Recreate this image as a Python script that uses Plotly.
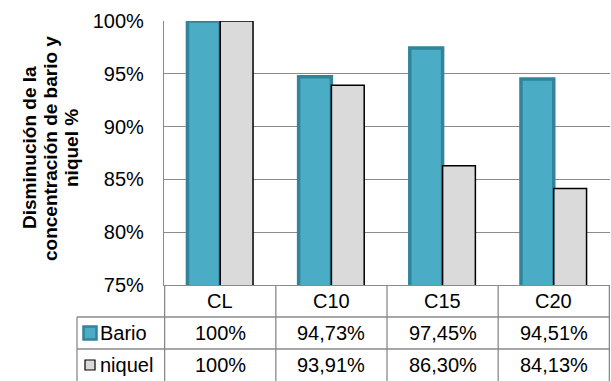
import plotly.graph_objects as go

# Reduction of barium and nickel concentration (%) per sample
categories = ["CL", "C10", "C15", "C20"]
bario = [100, 94.73, 97.45, 94.51]
niquel = [100, 93.91, 86.30, 84.13]
series_names = ["Bario", "niquel"]
tick_vals = [75, 80, 85, 90, 95, 100]
title_lines = ["Disminución de la", "concentración de bario y", "niquel %"]

FONT = "Liberation Sans, Arial, sans-serif"
GRID = "#8a8a8a"
BARIO_FILL = "#4bacc6"
BARIO_LINE = "#31849b"
NIQUEL_FILL = "#dadada"
NIQUEL_LINE = "#000000"
TXT = dict(size=20, color="#000", family=FONT)


def fmt(v):
    """Spanish-style percent for the data table."""
    if float(v).is_integer():
        return f"{int(v)}%"
    return f"{v:.2f}".replace(".", ",") + "%"


fig = go.Figure()
fig.add_trace(go.Bar(
    x=categories, y=bario, name=series_names[0],
    marker=dict(color=BARIO_FILL, line=dict(color=BARIO_LINE, width=3.5)),
))
fig.add_trace(go.Bar(
    x=categories, y=niquel, name=series_names[1],
    marker=dict(color=NIQUEL_FILL, line=dict(color=NIQUEL_LINE, width=1.5)),
))

# plot area: 21px top .. 285px bottom -> 264px tall, 164px .. 610px wide
plot_h = 264.0
plot_w = 446.0
L = 164.0
row_h = 32.0
r1 = -row_h / plot_h        # bottom of header row
r2 = -2 * row_h / plot_h    # bottom of Bario row
r3 = -3 * row_h / plot_h    # bottom of niquel row


def px(x):
    return (x - L) / plot_w


leg_left = px(77)

shapes = []
n = len(categories)
# vertical cell borders through the table, aligned with the category axis
for i in range(n + 1):
    shapes.append(dict(type="line", xref="x", yref="paper",
                       x0=i - 0.5, x1=i - 0.5, y0=0, y1=r3,
                       line=dict(color=GRID, width=1.3)))
# legend column left border
shapes.append(dict(type="line", xref="paper", yref="paper",
                   x0=leg_left, x1=leg_left, y0=r1, y1=r3,
                   line=dict(color=GRID, width=1.3)))
# horizontal row borders
for yy in (r1, r2):
    shapes.append(dict(type="line", xref="paper", yref="paper",
                       x0=leg_left, x1=1, y0=yy, y1=yy,
                       line=dict(color=GRID, width=1.3)))

annotations = []
# header row: category names
for i, c in enumerate(categories):
    annotations.append(dict(x=i, y=r1 / 2, xref="x", yref="paper", text=c,
                            xanchor="center", yanchor="middle",
                            showarrow=False, font=TXT))
# data rows with legend keys
rows = [
    (bario, series_names[0], BARIO_FILL, BARIO_LINE, 2.5, 6.5),
    (niquel, series_names[1], NIQUEL_FILL, NIQUEL_LINE, 1.2, 5),
]
for row_idx, (vals, name, fill, line, lw, half) in enumerate(rows):
    yc = r1 * (row_idx + 1) + r1 / 2
    for i, v in enumerate(vals):
        annotations.append(dict(x=i, y=yc, xref="x", yref="paper", text=fmt(v),
                                xanchor="center", yanchor="middle",
                                showarrow=False, font=TXT))
    kc = 90.0
    shapes.append(dict(type="rect", xref="paper", yref="paper",
                       x0=px(kc - half), x1=px(kc + half),
                       y0=yc - half / plot_h, y1=yc + half / plot_h,
                       fillcolor=fill, line=dict(color=line, width=lw)))
    annotations.append(dict(x=px(98), y=yc, xref="paper", yref="paper",
                            xanchor="left", yanchor="middle", text=name,
                            showarrow=False, font=TXT))

# rotated axis title, one annotation per line
for x_center, line_text in zip([29, 50, 71], title_lines):
    annotations.append(dict(
        x=px(x_center), y=(285 - 148) / plot_h, xref="paper", yref="paper",
        xanchor="center", yanchor="middle",
        text=f"<b>{line_text}</b>", textangle=-90, showarrow=False,
        font=dict(size=19, color="#000", family=FONT),
    ))

fig.update_layout(
    width=611, height=381,
    margin=dict(l=164, r=1, t=21, b=96),
    paper_bgcolor="white", plot_bgcolor="white",
    barmode="group", bargap=0.41, bargroupgap=0,
    showlegend=False,
    shapes=shapes, annotations=annotations,
    font=dict(family=FONT, size=20, color="#000"),
)
fig.update_xaxes(showticklabels=False, showgrid=False, showline=True,
                 linecolor=GRID, linewidth=1.3, ticks="")
fig.update_yaxes(range=[75, 100], tickvals=tick_vals,
                 ticktext=[f"{t}%" for t in tick_vals],
                 showgrid=True, gridcolor=GRID, gridwidth=1.3,
                 showline=True, linecolor=GRID, linewidth=1.3,
                 ticks="", ticklabelstandoff=15, zeroline=False,
                 tickfont=TXT)

fig.write_html("out.html")
